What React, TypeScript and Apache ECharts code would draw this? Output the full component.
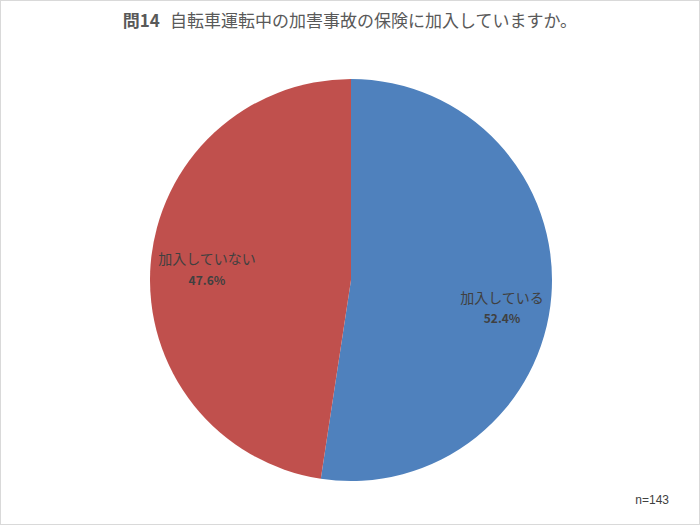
import React, { useEffect, useRef } from 'react';
import * as echarts from 'echarts';

const titleNo = '問14';
const titleText = '自転車運転中の加害事故の保険に加入していますか。';
const categories = ['加入している', '加入していない'];
const shares = [52.4, 47.6];
const sliceColors = ['#4F81BD', '#C0504D'];
const labelShifts = [[2, 16], [5, 0]];
const sampleNote = 'n=143';

const FONT = '"Noto Sans CJK JP", "Noto Sans", sans-serif';

const App: React.FC = () => {
	const chartRef = useRef<HTMLDivElement>(null);

	useEffect(() => {
		if (!chartRef.current) return;
		const chart = echarts.init(chartRef.current, undefined, { renderer: 'svg' });

		const pieData = categories.map((name, i) => ({
			name,
			value: shares[i],
			itemStyle: { color: sliceColors[i] }
		}));

		const option: echarts.EChartsOption = {
			animation: false,
			backgroundColor: '#ffffff',
			title: {
				text: `{b|${titleNo}}  {t|${titleText}}`,
				left: 'center',
				top: 4,
				textStyle: {
					rich: {
						b: {
							color: '#595959',
							fontSize: 17,
							fontWeight: 'bold',
							fontFamily: FONT
						},
						t: {
							color: '#595959',
							fontSize: 17,
							fontWeight: 'normal',
							fontFamily: FONT
						}
					}
				}
			},
			graphic: [
				{
					type: 'text',
					right: 30,
					bottom: 18,
					style: {
						text: sampleNote,
						fill: '#404040',
						font: '12px "Liberation Sans", Arial, sans-serif'
					}
				}
			],
			series: [
				{
					type: 'pie',
					center: [350, 279],
					radius: [0, 201],
					startAngle: 90,
					clockwise: true,
					silent: true,
					label: { show: false },
					labelLine: { show: false },
					data: pieData
				},
				{
					// transparent overlay only used to place labels at ~0.73r
					type: 'pie',
					center: [350, 279],
					radius: [92, 201],
					startAngle: 90,
					clockwise: true,
					silent: true,
					itemStyle: { color: 'transparent' },
					labelLine: { show: false },
					label: {
						show: true,
						position: 'inside',
						formatter: (p: any) => `{n|${p.name}}\n{p|${p.value.toFixed(1)}%}`,
						rich: {
							n: {
								color: '#404040',
								fontSize: 14,
								fontFamily: FONT,
								lineHeight: 21
							},
							p: {
								color: '#404040',
								fontSize: 12,
								fontWeight: 'bold',
								fontFamily: FONT,
								lineHeight: 21
							}
						}
					},
					data: categories.map((name, i) => ({
						name,
						value: shares[i],
						itemStyle: { color: 'rgba(0,0,0,0)' },
						label: { offset: labelShifts[i] }
					}))
				}
			]
		};

		chart.setOption(option);

		return () => {
			chart.dispose();
		};
	}, []);

	return (
		<div
			style={{
				position: 'fixed',
				left: 0,
				top: 0,
				width: '700px',
				height: '525px',
				boxSizing: 'border-box',
				border: '1px solid #d9d9d9',
				background: '#fff'
			}}
		>
			<div ref={chartRef} style={{ width: '698px', height: '523px' }} />
		</div>
	);
};

export default App;
